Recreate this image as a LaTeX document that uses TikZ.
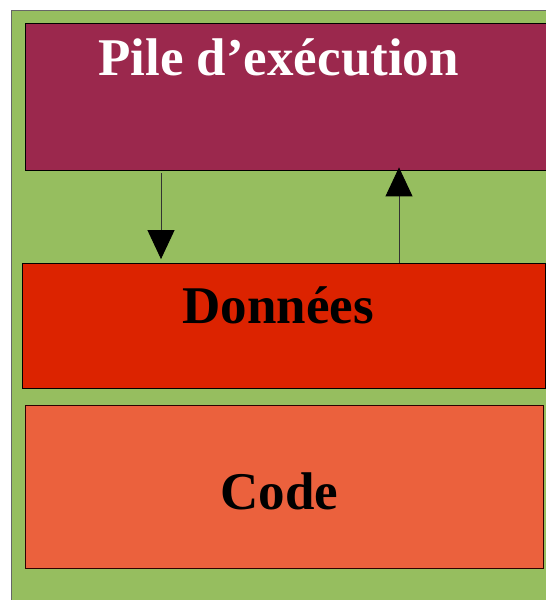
\documentclass[tikz,border=0pt]{standalone}
\usepackage{fontspec}
\setmainfont{Liberation Serif}
\usetikzlibrary{arrows.meta}
\usetikzlibrary{calc}

\definecolor{vertfond}{RGB}{150,190,95}
\definecolor{pilecol}{RGB}{155,40,77}
\definecolor{donneescol}{RGB}{220,35,0}
\definecolor{codecol}{RGB}{235,97,61}

\tikzset{
    zone/.style={draw=black, line width=0.8pt, inner sep=0pt, rectangle},
    titre/.style={font=\fontsize{53}{60}\selectfont\bfseries, anchor=base, inner sep=0pt},
    fleche/.style={draw=black!80, line width=0.9pt, -{Triangle[width=27pt,length=29pt,color=black]}}
}

\begin{document}
\begin{tikzpicture}[x=1pt,y=-1pt]
        \useasboundingbox (0,0) rectangle (546,600);
        \clip (0,0) rectangle (546,600);
        \draw [fill=vertfond, draw=black!60, line width=1pt] (11.5,10) rectangle (560,620);

        \node [zone, fill=pilecol, minimum width=521pt, minimum height=147pt] (pile) at (285.5,96.5) {};
        \node [zone, fill=donneescol, minimum width=523pt, minimum height=125pt] (donnees) at (283.5,325.5) {};
        \node [zone, fill=codecol, draw=black!70!red!60!black, minimum width=518pt, minimum height=163pt] (code) at (284,486.5) {};

        \node [titre, white] (pileTitre) at (278.5,75) {Pile d’exécution};
        \node [titre] (donneesTitre) at (278,323) {Données};
        \node [titre] (codeTitre) at (279.5,509) {Code};

        \coordinate (descente) at (161,0);
        \coordinate (montee) at (399,0);
        \draw [fleche, shorten >=3.5pt] ([yshift=-3pt]pile.south -| descente) -- (donnees.north -| descente);
        \draw [fleche, shorten >=-3pt] (donnees.north -| montee) -- (pile.south -| montee);
    \end{tikzpicture}
\end{document}
